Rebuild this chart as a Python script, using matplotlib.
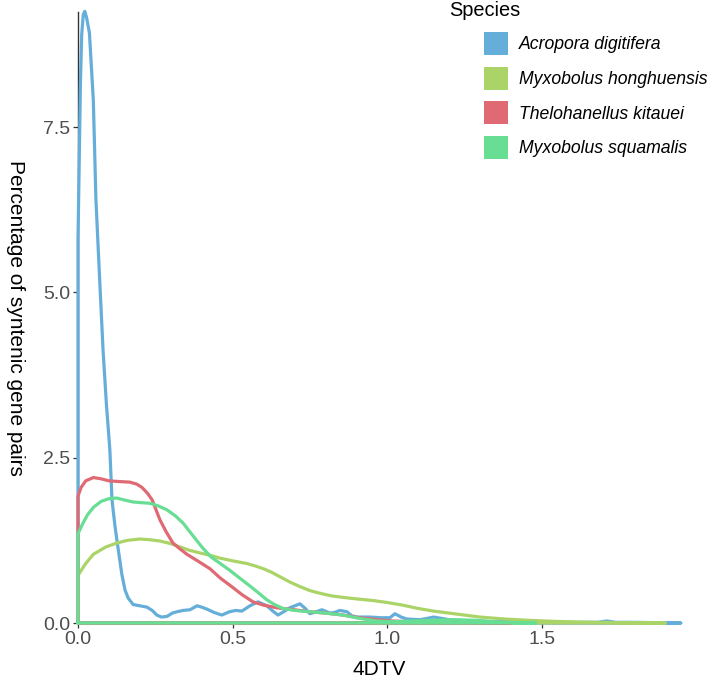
import matplotlib.pyplot as plt
from matplotlib.patches import Patch

# Curvas de densidad leídas a ojo de la figura original (4DTV, porcentaje)
especies = ['Acropora digitifera', 'Myxobolus honghuensis',
            'Thelohanellus kitauei', 'Myxobolus squamalis']
colores = ['#66AEDA', '#ABD468', '#E06A74', '#67DE93']

x_acropora = [0.0, 0.004, 0.008, 0.012, 0.017, 0.022, 0.028, 0.037, 0.0495, 0.058,
              0.07, 0.081, 0.092, 0.103, 0.11, 0.12, 0.129, 0.142, 0.152, 0.162,
              0.178, 0.2, 0.223, 0.24, 0.255, 0.27, 0.288, 0.305, 0.32, 0.34,
              0.362, 0.385, 0.4, 0.417, 0.44, 0.465, 0.49, 0.51, 0.53, 0.556,
              0.582, 0.611, 0.63, 0.647, 0.665, 0.685, 0.718, 0.735, 0.75, 0.77,
              0.789, 0.815, 0.83, 0.847, 0.87, 0.885, 0.902, 0.944, 0.98, 1.009,
              1.025, 1.045, 1.064, 1.106, 1.13, 1.15, 1.175, 1.2, 1.25, 1.3,
              1.35, 1.4, 1.45, 1.5, 1.6, 1.68, 1.71, 1.74, 1.8, 1.95]
y_acropora = [5.8, 7.0, 8.2, 8.9, 9.2, 9.25, 9.15, 8.92, 7.91, 6.4,
              5.2, 4.13, 3.3, 2.62, 1.86, 1.45, 1.15, 0.73, 0.5, 0.38,
              0.28, 0.26, 0.24, 0.19, 0.12, 0.09, 0.1, 0.15, 0.17, 0.19,
              0.2, 0.26, 0.24, 0.21, 0.16, 0.12, 0.17, 0.19, 0.18, 0.26,
              0.32, 0.26, 0.18, 0.12, 0.17, 0.23, 0.29, 0.22, 0.14, 0.17,
              0.2, 0.15, 0.16, 0.19, 0.17, 0.11, 0.09, 0.09, 0.08, 0.08,
              0.14, 0.09, 0.06, 0.05, 0.07, 0.09, 0.07, 0.05, 0.03, 0.02,
              0.02, 0.03, 0.02, 0.02, 0.01, 0.01, 0.03, 0.01, 0.01, 0.0]

x_hong = [0.0, 0.025, 0.05, 0.09, 0.126, 0.16, 0.2, 0.23, 0.265, 0.3, 0.33,
          0.36, 0.394, 0.43, 0.46, 0.5, 0.546, 0.575, 0.6, 0.625, 0.653,
          0.685, 0.718, 0.75, 0.782, 0.82, 0.87, 0.91, 0.954, 1.0, 1.05,
          1.1, 1.15, 1.2, 1.25, 1.3, 1.38, 1.46, 1.54, 1.62, 1.75, 1.9]
y_hong = [0.72, 0.9, 1.04, 1.15, 1.21, 1.25, 1.27, 1.26, 1.24, 1.2, 1.15,
          1.1, 1.06, 1.02, 0.98, 0.94, 0.9, 0.86, 0.82, 0.77, 0.7,
          0.62, 0.55, 0.49, 0.45, 0.41, 0.38, 0.36, 0.34, 0.31, 0.27,
          0.22, 0.18, 0.15, 0.12, 0.09, 0.06, 0.04, 0.025, 0.015, 0.005, 0.0]

x_thelo = [0.0, 0.01, 0.025, 0.05, 0.075, 0.1, 0.13, 0.168, 0.19, 0.207, 0.225,
           0.24, 0.265, 0.285, 0.307, 0.33, 0.352, 0.39, 0.427, 0.46, 0.5,
           0.53, 0.566, 0.6, 0.643, 0.7, 0.75, 0.8, 0.857, 0.91, 0.967,
           1.02, 1.07, 1.15, 1.3, 1.4]
y_thelo = [1.92, 2.05, 2.15, 2.2, 2.18, 2.15, 2.14, 2.13, 2.1, 2.05, 1.96,
           1.86, 1.56, 1.38, 1.21, 1.12, 1.04, 0.93, 0.82, 0.68, 0.54,
           0.43, 0.32, 0.27, 0.23, 0.2, 0.17, 0.15, 0.12, 0.08, 0.05,
           0.03, 0.02, 0.01, 0.005, 0.0]

x_squa = [0.0, 0.015, 0.03, 0.05, 0.075, 0.1, 0.125, 0.15, 0.178, 0.205, 0.233,
          0.26, 0.288, 0.315, 0.34, 0.37, 0.404, 0.43, 0.46, 0.49, 0.52,
          0.556, 0.585, 0.611, 0.635, 0.663, 0.7, 0.75, 0.8, 0.857, 0.91,
          0.967, 1.02, 1.08, 1.14, 1.22, 1.29, 1.38, 1.48]
y_squa = [1.35, 1.5, 1.63, 1.75, 1.84, 1.88, 1.89, 1.86, 1.83, 1.82, 1.81,
          1.77, 1.71, 1.62, 1.51, 1.33, 1.13, 1.0, 0.9, 0.8, 0.69,
          0.56, 0.45, 0.35, 0.28, 0.22, 0.19, 0.17, 0.15, 0.12, 0.07,
          0.03, 0.02, 0.03, 0.04, 0.05, 0.04, 0.01, 0.0]

series = [(x_acropora, y_acropora), (x_hong, y_hong),
          (x_thelo, y_thelo), (x_squa, y_squa)]

plt.rcParams['font.family'] = ['Liberation Sans', 'DejaVu Sans']

fig = plt.figure(figsize=(7.08, 6.79), dpi=100)
ax = fig.add_axes([78 / 708, 56 / 679, 602 / 708, 611 / 679])

for (xs, ys), col in zip(series, colores):
    # contorno completo como en geom_density (lado izquierdo y base incluidos)
    xx = [xs[0]] + list(xs) + [xs[-1], xs[0]]
    yy = [0.0] + list(ys) + [0.0, 0.0]
    ax.plot(xx, yy, color=col, lw=2.3, solid_joinstyle='round',
            solid_capstyle='round', clip_on=False, zorder=3)

ax.set_xlim(0, 1.947)
ax.set_ylim(0, 9.24)
ax.set_xticks([0, 0.5, 1.0, 1.5])
ax.set_xticklabels(['0.0', '0.5', '1.0', '1.5'])
ax.set_yticks([0, 2.5, 5.0, 7.5])
ax.set_yticklabels(['0.0', '2.5', '5.0', '7.5'])
for s in ['top', 'right']:
    ax.spines[s].set_visible(False)
for s in ['left', 'bottom']:
    ax.spines[s].set_color('#333333')
    ax.spines[s].set_linewidth(1.0)
ax.tick_params(length=3.5, width=0.9, color='#333333', labelsize=14,
               labelcolor='#4D4D4D', pad=2)

ax.set_xlabel('4DTV', fontsize=15, labelpad=9)
ax.set_ylabel('Percentage of syntenic gene pairs', fontsize=15,
              rotation=-90, va='center', labelpad=20)

handles = [Patch(facecolor=c, edgecolor='none') for c in colores]
leg = ax.legend(handles, especies, loc='upper left',
                bbox_to_anchor=(484 / 708, 1 - 32 / 679),
                bbox_transform=fig.transFigure, frameon=False,
                prop={'style': 'italic', 'size': 12.7},
                handlelength=1.36, handleheight=1.63, handletextpad=0.62,
                labelspacing=0.66, borderpad=0, borderaxespad=0)
fig.text(449 / 708, 1 - 10 / 679, 'Species', fontsize=14.4, va='center', ha='left')

fig.savefig('out.png', dpi=100)
